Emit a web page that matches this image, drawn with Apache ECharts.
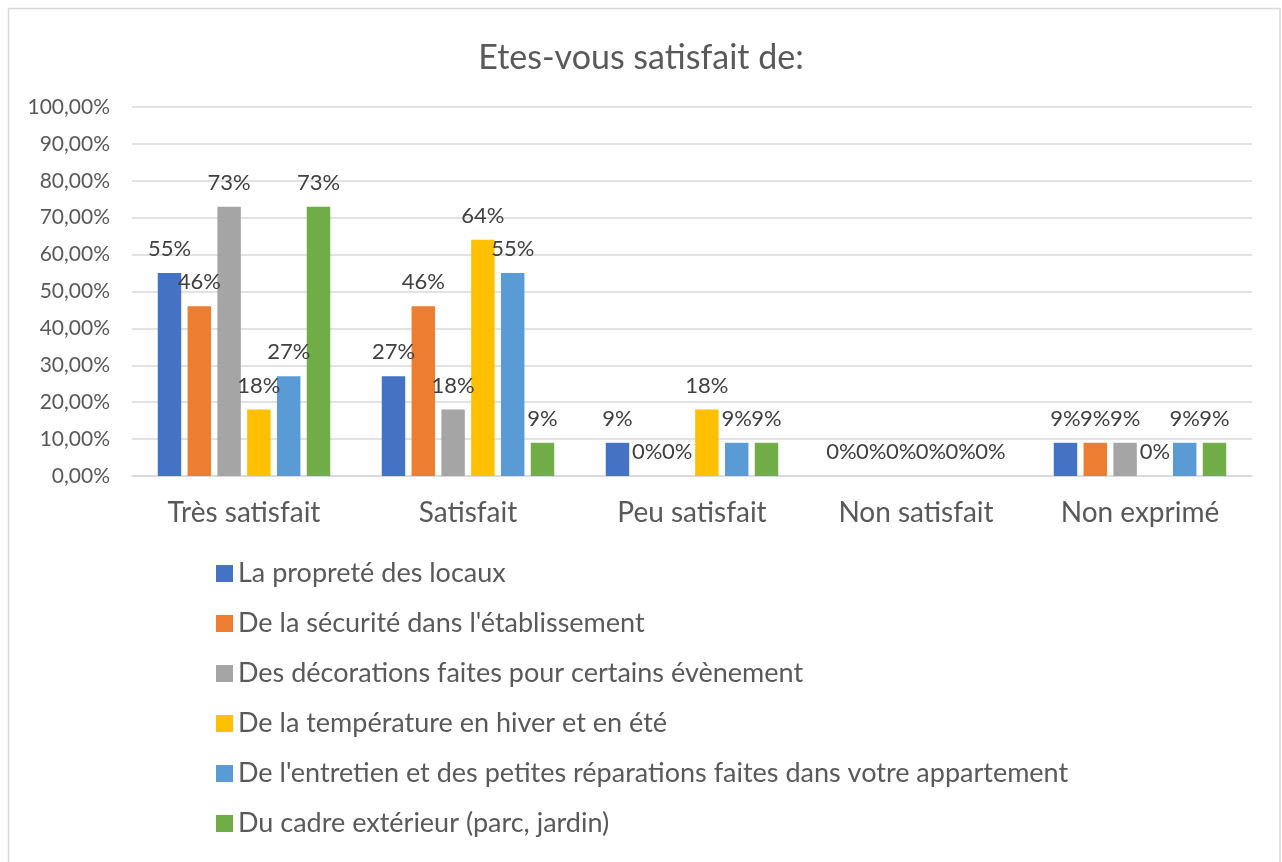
<!DOCTYPE html>
<html>
<head>
<meta charset="utf-8">
<script src="https://cdn.jsdelivr.net/npm/echarts@6/dist/echarts.min.js"></script>
<style>
html,body{margin:0;padding:0;background:#fff;}
#chart{width:1282px;height:862px;}
</style>
</head>
<body>
<div id="chart"></div>
<script>
const title = 'Etes-vous satisfait de:';
const categories = ['Très satisfait', 'Satisfait', 'Peu satisfait', 'Non satisfait', 'Non exprimé'];
const seriesNames = [
  'La propreté des locaux',
  "De la sécurité dans l'établissement",
  'Des décorations faites pour certains évènement',
  'De la température en hiver et en été',
  "De l'entretien et des petites réparations faites dans votre appartement",
  'Du cadre extérieur (parc, jardin)'
];
const proprete     = [55, 27, 9, 0, 9];
const securite     = [46, 46, 0, 0, 9];
const decorations  = [73, 18, 0, 0, 9];
const temperature  = [18, 64, 18, 0, 0];
const entretien    = [27, 55, 9, 0, 9];
const cadre        = [73, 9, 9, 0, 9];
const colors = ['#4472C4', '#ED7D31', '#A5A5A5', '#FFC000', '#5B9BD5', '#70AD47'];

const allValues = [proprete, securite, decorations, temperature, entretien, cadre];
const FONT = 'Lato';

const chart = echarts.init(document.getElementById('chart'));
chart.setOption({
  animation: false,
  textStyle: { fontFamily: FONT },
  title: {
    text: title,
    left: 'center',
    top: 36,
    textStyle: { fontFamily: FONT, fontSize: 34, fontWeight: 'normal', color: '#595959' }
  },
  graphic: [{
    type: 'rect',
    shape: { x: 8.5, y: 8.5, width: 1271.5, height: 900 },
    style: { fill: 'none', stroke: '#d9d9d9', lineWidth: 1.5 },
    silent: true
  }],
  grid: { left: 132, right: 30, top: 107, height: 369, containLabel: false },
  legend: {
    orient: 'vertical',
    left: 211,
    top: 555,
    height: 305,
    itemWidth: 17,
    itemHeight: 17,
    itemGap: 23,
    icon: 'rect',
    data: seriesNames,
    textStyle: { fontFamily: FONT, fontSize: 27, color: '#595959' }
  },
  xAxis: {
    type: 'category',
    data: categories,
    axisTick: { show: false },
    axisLine: { lineStyle: { color: '#d9d9d9', width: 1.5 } },
    axisLabel: { fontFamily: FONT, fontSize: 28, color: '#595959', margin: 23 }
  },
  yAxis: {
    type: 'value',
    min: 0, max: 100, interval: 10,
    axisLine: { show: false },
    axisTick: { show: false },
    splitLine: { lineStyle: { color: '#d9d9d9', width: 1.5 } },
    axisLabel: {
      fontFamily: FONT, fontSize: 21, color: '#595959', margin: 22,
      formatter: v => v.toFixed(2).replace('.', ',') + '%'
    }
  },
  series: seriesNames.map((name, i) => ({
    name,
    type: 'bar',
    data: allValues[i],
    barGap: '27%',
    barCategoryGap: '23%',
    itemStyle: { color: colors[i] },
    label: {
      show: true,
      position: 'top',
      distance: 13,
      fontFamily: FONT,
      fontSize: 22,
      color: '#404040',
      formatter: p => Math.round(p.value) + '%'
    }
  }))
});
</script>
</body>
</html>
